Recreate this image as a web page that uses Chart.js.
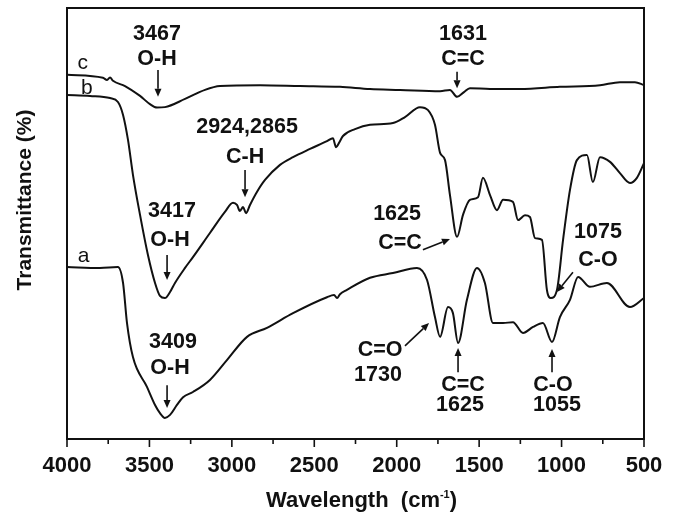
<!DOCTYPE html>
<html>
<head>
<meta charset="utf-8">
<script src="https://cdn.jsdelivr.net/npm/chart.js@4.4.1/dist/chart.umd.min.js"></script>
<style>
  html, body { margin: 0; padding: 0; background: #fff; }
  #wrap { width: 678px; height: 515px; }
</style>
</head>
<body>
<div id="wrap"><canvas id="ftir" width="678" height="515"></canvas></div>
<script>
// FTIR spectra (a, b, c) - wavenumber in cm-1, transmittance in arbitrary %
const waveA = [4000, 3800, 3691, 3660, 3636, 3600, 3515, 3466, 3436, 3406,
  3375, 3333, 3296, 3236, 3133, 3030, 2908, 2787, 2629, 2423,
  2380, 2362, 2344, 2302, 2162, 2023, 1877, 1816, 1768, 1737,
  1689, 1659, 1628, 1574, 1513, 1465, 1416, 1355, 1295, 1234,
  1173, 1113, 1058, 1010, 949, 900, 828, 725, 585, 500];
const transA = [39.9, 39.7, 39.9, 36.2, 26.9, 19.0, 12.1, 7.9, 6.0, 4.9,
  5.6, 7.9, 9.7, 10.9, 13.7, 18.3, 23.7, 25.8, 29.2, 32.9,
  33.4, 32.7, 33.6, 34.6, 37.4, 38.5, 39.7, 36.9, 28.3, 23.7,
  30.6, 29.2, 22.3, 32.3, 39.7, 36.2, 26.9, 26.9, 27.1, 24.6,
  26.0, 26.9, 22.5, 28.3, 32.3, 37.6, 35.3, 36.2, 30.6, 32.7];

const waveB = [4000, 3860, 3739, 3691, 3660, 3630, 3600, 3557, 3509, 3466,
  3436, 3406, 3375, 3345, 3284, 3236, 3133, 3042, 2993, 2969,
  2951, 2932, 2914, 2890, 2848, 2799, 2708, 2629, 2526, 2423,
  2387, 2368, 2350, 2326, 2253, 2162, 2023, 1950, 1859, 1810,
  1768, 1737, 1707, 1677, 1634, 1598, 1556, 1507, 1477, 1434,
  1392, 1355, 1295, 1264, 1222, 1192, 1161, 1119, 1089, 1065,
  1028, 991, 949, 907, 846, 810, 767, 706, 646, 585,
  543, 500];
const transB = [79.8, 79.6, 79.1, 78.2, 75.2, 69.4, 61.3, 52.0, 42.7, 36.2,
  33.2, 32.7, 34.1, 36.2, 39.7, 42.2, 47.8, 52.7, 54.8, 54.3,
  52.9, 53.8, 52.4, 54.3, 57.3, 60.1, 63.6, 65.4, 67.3, 69.1,
  69.8, 67.7, 68.7, 70.3, 71.9, 72.9, 73.3, 74.7, 77.0, 76.3,
  72.9, 66.4, 64.7, 56.6, 46.9, 52.0, 55.5, 56.1, 60.6, 56.6,
  53.1, 55.5, 55.0, 50.8, 51.9, 51.5, 46.6, 46.2, 34.6, 32.7,
  34.6, 46.2, 57.8, 64.7, 65.9, 59.6, 65.4, 64.3, 61.7, 59.4,
  60.6, 64.0];

const waveC = [4000, 3782, 3757, 3739, 3721, 3648, 3557, 3497, 3454, 3406,
  3284, 3163, 3072, 2829, 2587, 2344, 2162, 1980, 1737, 1677,
  1634, 1592, 1556, 1434, 1252, 1010, 767, 646, 555, 500];
const transC = [84.5, 83.8, 83.3, 83.9, 83.1, 81.9, 79.6, 77.7, 76.9, 77.0,
  78.9, 81.0, 81.9, 82.1, 81.9, 81.7, 81.2, 81.0, 80.7, 81.0,
  79.4, 80.5, 81.4, 81.2, 81.2, 81.7, 82.1, 82.8, 82.8, 82.1];

const xTickValues = [4000, 3500, 3000, 2500, 2000, 1500, 1000, 500];

// curve names next to the left axis
const curveNames = [
  { text: 'c', x: 3905, y: 87.3 },
  { text: 'b', x: 3880, y: 81.5 },
  { text: 'a', x: 3900, y: 42.5 }
];

// band assignments: text centres and arrows (tail -> head), in data units
const bandLabels = [
  { text: '3467', x: 3454, y: 93.9 },
  { text: 'O-H', x: 3454, y: 88.1 },
  { text: '2924,2865', x: 2908, y: 72.3 },
  { text: 'C-H', x: 2920, y: 65.5 },
  { text: '1631', x: 1598, y: 93.9 },
  { text: 'C=C', x: 1598, y: 88.1 },
  { text: '3417', x: 3363, y: 52.8 },
  { text: 'O-H', x: 3375, y: 46.2 },
  { text: '3409', x: 3357, y: 22.4 },
  { text: 'O-H', x: 3375, y: 16.5 },
  { text: '1625', x: 1998, y: 52.3 },
  { text: 'C=C', x: 1980, y: 45.4 },
  { text: '1075', x: 779, y: 47.9 },
  { text: 'C-O', x: 779, y: 41.6 },
  { text: 'C=O', x: 2101, y: 20.6 },
  { text: '1730', x: 2114, y: 14.8 },
  { text: 'C=C', x: 1598, y: 12.4 },
  { text: '1625', x: 1616, y: 7.8 },
  { text: 'C-O', x: 1052, y: 12.4 },
  { text: '1055', x: 1028, y: 7.8 }
];

const bandArrows = [
  [3448, 85.6, 3448, 79.4],
  [2920, 62.4, 2920, 56.1],
  [1634, 85.2, 1634, 81.4],
  [3393, 42.7, 3393, 36.9],
  [3393, 12.5, 3393, 7.2],
  [1841, 43.9, 1677, 46.4],
  [931, 38.7, 1028, 34.1],
  [1950, 21.6, 1804, 26.9],
  [1628, 15.5, 1628, 21.1],
  [1058, 15.5, 1058, 20.9]
];

const FONT = '"Liberation Sans", Arial, sans-serif';
const INK = '#111';

function toPoints(xs, ys) {
  return xs.map((x, i) => ({ x: x, y: ys[i] }));
}

function drawArrow(ctx, x1, y1, x2, y2) {
  const ang = Math.atan2(y2 - y1, x2 - x1);
  const head = 8, half = 3.5;
  const bx = x2 - head * Math.cos(ang);
  const by = y2 - head * Math.sin(ang);
  ctx.beginPath();
  ctx.moveTo(x1, y1);
  ctx.lineTo(bx, by);
  ctx.stroke();
  ctx.beginPath();
  ctx.moveTo(x2, y2);
  ctx.lineTo(bx + half * Math.sin(ang), by - half * Math.cos(ang));
  ctx.lineTo(bx - half * Math.sin(ang), by + half * Math.cos(ang));
  ctx.closePath();
  ctx.fill();
}

// frame, minor ticks, axis titles and band annotations
const spectrumDecor = {
  id: 'spectrumDecor',
  afterDraw(chart) {
    const { ctx, chartArea: area, scales: { x, y } } = chart;
    ctx.save();
    ctx.strokeStyle = INK;
    ctx.fillStyle = INK;

    ctx.lineWidth = 2;
    ctx.strokeRect(area.left, area.top, area.right - area.left, area.bottom - area.top);

    // major ticks 8px, minor ticks (halfway) 5px, pointing outwards
    ctx.lineWidth = 1.6;
    xTickValues.forEach((v, i) => {
      const px = x.getPixelForValue(v);
      ctx.beginPath();
      ctx.moveTo(px, area.bottom);
      ctx.lineTo(px, area.bottom + 8);
      ctx.stroke();
      if (i < xTickValues.length - 1) {
        const mx = x.getPixelForValue((v + xTickValues[i + 1]) / 2);
        ctx.beginPath();
        ctx.moveTo(mx, area.bottom);
        ctx.lineTo(mx, area.bottom + 5);
        ctx.stroke();
      }
    });

    // y title
    ctx.save();
    ctx.translate(area.left - 42, area.top + 192);
    ctx.rotate(-Math.PI / 2);
    ctx.font = 'bold 21px ' + FONT;
    ctx.textAlign = 'center';
    ctx.textBaseline = 'middle';
    ctx.fillText('Transmittance (%)', 0, 0);
    ctx.restore();

    // x title with superscript
    const main = 'Wavelength  (cm';
    ctx.font = 'bold 22px ' + FONT;
    const w1 = ctx.measureText(main).width;
    const w3 = ctx.measureText(')').width;
    ctx.font = 'bold 11px ' + FONT;
    const w2 = ctx.measureText('-1').width;
    const cx = (area.left + area.right) / 2 + 6;
    let tx = cx - (w1 + w2 + w3) / 2;
    const base = 507;
    ctx.textAlign = 'left';
    ctx.textBaseline = 'alphabetic';
    ctx.font = 'bold 22px ' + FONT;
    ctx.fillText(main, tx, base);
    tx += w1;
    ctx.font = 'bold 11px ' + FONT;
    ctx.fillText('-1', tx, base - 9);
    tx += w2;
    ctx.font = 'bold 22px ' + FONT;
    ctx.fillText(')', tx, base);

    // curve names
    ctx.font = '21px ' + FONT;
    ctx.textAlign = 'center';
    ctx.textBaseline = 'middle';
    curveNames.forEach(n => {
      ctx.fillText(n.text, x.getPixelForValue(n.x), y.getPixelForValue(n.y));
    });

    // band labels
    ctx.font = 'bold 21.5px ' + FONT;
    bandLabels.forEach(l => {
      ctx.fillText(l.text, x.getPixelForValue(l.x), y.getPixelForValue(l.y));
    });

    ctx.lineWidth = 1.6;
    bandArrows.forEach(a => {
      drawArrow(ctx,
        x.getPixelForValue(a[0]), y.getPixelForValue(a[1]),
        x.getPixelForValue(a[2]), y.getPixelForValue(a[3]));
    });
    ctx.restore();
  }
};

const lineStyle = {
  borderColor: INK,
  borderWidth: 2,
  pointRadius: 0,
  fill: false,
  cubicInterpolationMode: 'monotone'
};

new Chart(document.getElementById('ftir'), {
  type: 'line',
  data: {
    datasets: [
      Object.assign({ label: 'a', data: toPoints(waveA, transA) }, lineStyle),
      Object.assign({ label: 'b', data: toPoints(waveB, transB) }, lineStyle),
      Object.assign({ label: 'c', data: toPoints(waveC, transC) }, lineStyle)
    ]
  },
  options: {
    responsive: false,
    animation: false,
    layout: { padding: { left: 67, right: 34, top: 8, bottom: 0 } },
    plugins: {
      legend: { display: false },
      tooltip: { enabled: false }
    },
    scales: {
      x: {
        type: 'linear',
        reverse: true,
        min: 500,
        max: 4000,
        afterBuildTicks: scale => {
          scale.ticks = xTickValues.map(v => ({ value: v }));
        },
        afterFit: scale => { scale.height = 76; },
        grid: { display: false, drawTicks: false },
        border: { display: false },
        ticks: {
          autoSkip: false,
          maxRotation: 0,
          padding: 14,
          color: INK,
          font: { family: FONT, size: 22, weight: 'bold' },
          callback: value => String(value)
        }
      },
      y: {
        display: false,
        min: 0,
        max: 100
      }
    }
  },
  plugins: [spectrumDecor]
});
</script>
</body>
</html>
